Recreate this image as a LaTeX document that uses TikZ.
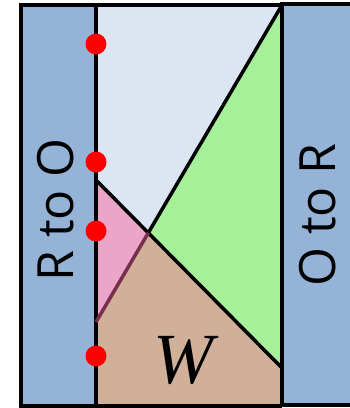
\documentclass[tikz,border=0pt]{standalone}
\usepackage{fontspec}
\setmainfont{Liberation Serif}
\newfontfamily\labelfont{Open Sans}
\usetikzlibrary{calc}
\definecolor{panelblue}{HTML}{95B3D7}
\definecolor{paleblue}{HTML}{DCE6F2}
\definecolor{greenreg}{HTML}{A6F09A}
\definecolor{pinkreg}{HTML}{EBA5C8}
\definecolor{tanreg}{HTML}{D1B09A}
\definecolor{maroonline}{HTML}{7A2E4E}
\tikzset{
  panel/.style={fill=panelblue, draw=black, line width=3.5pt},
  edgeline/.style={draw=black, line width=3.5pt},
  reddot/.style={circle, fill=red, inner sep=0pt, minimum size=21pt},
  sidelabel/.style={rotate=90, font=\labelfont\fontsize{50}{50}\selectfont, inner sep=0pt}
}
\begin{document}
\begin{tikzpicture}[x=1pt, y=-1pt]
\useasboundingbox (0,0) rectangle (350,408);
% key points
\coordinate (TL) at (96,5);
\coordinate (BL) at (96,406);
\coordinate (A) at (96,180);
\coordinate (B) at (282,368);
\coordinate (C) at (282,5);
\coordinate (D) at (96,322);
\coordinate (BR) at (282,406);
\coordinate (X) at (intersection of A--B and C--D);
% side panels
\draw[panel] (21,5) rectangle (96,406);
\draw[panel] (282,4) rectangle (356,405);
% regions
\fill[paleblue] (TL) -- (C) -- (X) -- (A) -- cycle;
\fill[greenreg] (C) -- (B) -- (X) -- cycle;
\fill[pinkreg] (A) -- (X) -- (D) -- cycle;
\fill[tanreg] (D) -- (X) -- (B) -- (BR) -- (BL) -- cycle;
% lines
\draw[edgeline] (TL) -- (C);
\draw[edgeline] (BL) -- (BR);
\draw[edgeline] (C) -- (BR);
\draw[edgeline] (TL) -- (BL);
\draw[edgeline] (A) -- (B);
\draw[edgeline] (C) -- (X);
\draw[draw=maroonline, line width=3.5pt] (X) -- (D);
% red dots
\node[reddot] (d1) at (96,44) {};
\node[reddot] (d2) at (96,162) {};
\node[reddot] (d3) at (96,231) {};
\node[reddot] (d4) at (96,356) {};
% labels
\node[sidelabel] (lt) at (56,210) {R to O};
\node[sidelabel] (rt) at (318,215) {O to R};
\node[font=\itshape\fontsize{72}{72}\selectfont, inner sep=0pt] (w) at (183,360) {W};
\end{tikzpicture}
\end{document}
